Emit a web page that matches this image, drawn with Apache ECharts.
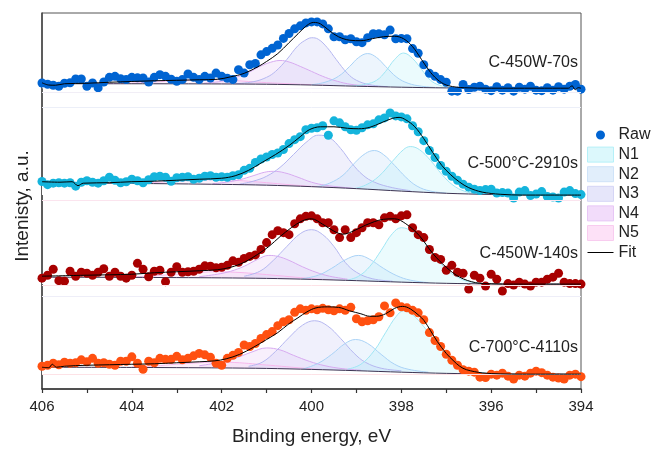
<!DOCTYPE html>
<html>
<head>
<meta charset="utf-8">
<script src="https://cdn.jsdelivr.net/npm/echarts@6/dist/echarts.min.js"></script>
<style>
  html, body { margin: 0; padding: 0; background: #fff; }
  #chart { width: 652px; height: 451px; }
</style>
</head>
<body>
<div id="chart"></div>
<script>
// N 1s spectra of four samples, stacked. Raw scans share one energy grid (eV)
const energyStart = 406;
const energyStep = 0.125;
const energies = [];
for (let i = 0; i <= 96; i++) energies.push(+(energyStart - i * energyStep).toFixed(3));

const samples = ['C-450W-70s', 'C-500°C-2910s', 'C-450W-140s', 'C-700°C-4110s'];
const offsets = [304, 196, 106, 15]; // vertical shift of each spectrum
const xTickLabels = [406, 404, 402, 400, 398, 396, 394];

// raw counts (a.u.), 406 -> 394 eV
const raw1 = [5.3, 4, 3, 2, 5, 5.5, 9.3, 9.3, 2, 5.3, 0.3, 6.3, 11, 12, 9.5, 8.7, 11, 10.5, 10.3, 6.3, 11, 13.7, 12, 9, 7,
  8.7, 14.3, 11, 8.7, 12, 10.3, 15.3, 12, 10, 8.7, 18.7, 15.3, 23.7, 25, 33.7, 37, 40.3, 43.7, 50.3, 55.3, 60, 63, 66, 67,
  67, 65, 60, 52, 52, 49, 50, 47, 46, 51, 55, 55, 54, 58.7, 50, 50.3, 50, 40, 35.3, 23.7, 15, 12, 8.7, 6,
  -3, -3, 3.7, -1.3, 1, 2, -1, -2.5, 1.5, -2, 0.5, -3, 1, -1, 2, -2, -2.5, 0.5, -2, 1.5, -1, 2, 3.7, -1];
const raw2 = [13.7, 10.5, 12, 12.5, 12, 12.5, 9, 13, 14.5, 13, 12, 14.5, 18, 15, 12.5, 13.5, 16, 14.5, 12.5, 15.5, 18.5, 19, 18, 14, 17.5,
  18, 18.5, 16, 17, 19, 19.5, 18, 18.5, 18, 19.5, 20.5, 25, 27, 33, 36.5, 38.5, 41, 42.5, 46, 52, 56, 59, 66, 67.5,
  68, 70, 60.5, 75, 73, 69, 66, 65.5, 68, 71, 72, 76, 78, 83, 80, 79, 77, 70, 64, 55, 45, 38, 30, 24,
  19, 15, 11, 8, 6, 4.5, 5.5, 6, 2, 2.5, 2, -3, 3, 4.5, -0.5, 1, 3.5, -1.5, -2, -3, 3, 4.5, 1.5, 0.5];
const raw3 = [6, 9, 15, 3.5, 3, 13, 8, 12, 11, 9, 12, 15.5, 8, 12, 8, 6, 9, 21, 15, 7.5, 13, 14, 2.5, 12, 17.5,
  12, 12.5, 13, 15, 18.5, 18, 16.5, 17, 19, 23.5, 22, 26, 28, 29.5, 35, 42, 50, 54, 52, 50, 61, 66, 68.5, 69,
  66, 62, 62, 55, 47, 55, 47, 52, 57, 62, 62, 60, 67, 68.5, 66, 69, 70, 57, 50, 47, 35, 27, 25, 14,
  19, 12, 11, -5, 9, 6, -2, 10, 5, -7, 0.5, -1, 2, 0, -2, 2, 2, 5, 7, 11, 2, 0.5, 0.5, 0];
const raw4 = [8, 9, 11, 9.5, 12, 11, 11.5, 14.5, 12.5, 16, 11, 11.5, 10, 9, 13, 13, 17.5, 11, 5, 13, 11.5, 16, 15, 15, 18,
  14.5, 16, 18.5, 21, 19.5, 17, 11, 9, 16, 19, 22, 29.5, 28, 31, 36, 40, 43, 49, 53, 55, 62.5, 66, 64.5, 66,
  65, 66.5, 65, 64, 66, 64.5, 67.5, 56, 53, 54, 55, 58, 69, 62, 72, 68, 67, 64.5, 62, 55, 42, 34, 28, 20,
  14, 9, 4.5, 3, 2, -3, -3.5, 0, -1, 1, -2, -5, -1, -2, 1, 3, 1.5, -1, -3, -4, -5, -1, 0, -2.5];

// envelope fits [eV, a.u.]
const fit1 = [[406, 5.5], [405.85, 3.2], [405.7, 3], [405.5, 4.5], [405, 5], [404.5, 6], [404, 6.8], [403.5, 7.5], [403, 8],
  [402.5, 8.5], [402.1, 9], [401.8, 11.5], [401.5, 15], [401.2, 21.5], [401, 27], [400.75, 35], [400.5, 46], [400.3, 55],
  [400.1, 63.5], [399.95, 66.5], [399.8, 65], [399.6, 58], [399.4, 52], [399.15, 48.5], [398.9, 48], [398.65, 50], [398.4, 52],
  [398.15, 52.5], [397.95, 50], [397.75, 42], [397.55, 29], [397.35, 16], [397.15, 7], [396.95, 2.5], [396.6, 0.5], [396, 0],
  [395, 0], [394.28, 0], [394.2, 2.5], [394.13, -1.5], [394.06, 0.5], [394, 0]];
const fit2 = [[406, 13.5], [405.6, 13], [405.33, 13.5], [405.2, 9.5], [405.08, 12], [404.5, 12.5], [404, 13.5], [403.5, 14],
  [403, 15], [402.5, 16], [402, 17], [401.7, 19.5], [401.4, 25], [401.1, 33], [400.8, 41], [400.5, 50], [400.25, 59],
  [400.05, 66], [399.8, 69], [399.5, 69], [399.2, 67.5], [398.95, 67], [398.7, 68.5], [398.45, 73], [398.2, 77.5],
  [398.05, 78.5], [397.9, 76], [397.7, 69], [397.5, 57], [397.3, 43], [397.1, 30], [396.9, 20.5], [396.7, 13], [396.5, 7.5],
  [396.2, 3], [395.8, 0.8], [395.3, 0], [394, 0]];
const fit3 = [[406, 8], [405, 9], [404, 10], [403.5, 11.5], [403, 12.5], [402.5, 13.5], [402.1, 14.5], [401.8, 17], [401.5, 22],
  [401.2, 30], [400.95, 38], [400.7, 48], [400.45, 57], [400.2, 64], [400, 66], [399.75, 60.5], [399.5, 53.5], [399.3, 50.5],
  [399.1, 53], [398.8, 59.5], [398.4, 65.5], [398.15, 66], [397.9, 61], [397.6, 49], [397.3, 31], [397, 17], [396.7, 7],
  [396.35, 1.5], [396, 0.3], [395.5, 0], [394, 0]];
const fit4 = [[406, 7], [405.85, 6.5], [405.77, 10], [405.68, 7], [405.5, 8], [405, 9], [404.5, 9.5], [404, 10], [403.5, 10.5],
  [403, 11.5], [402.5, 12.5], [402.15, 13.5], [401.9, 15.5], [401.6, 20], [401.3, 27], [401, 35], [400.75, 42], [400.5, 51],
  [400.3, 57], [400.1, 63], [399.9, 67], [399.65, 68], [399.4, 67.5], [399.15, 64], [398.9, 61], [398.7, 58.5], [398.55, 58.5],
  [398.35, 61], [398.15, 66.5], [397.97, 68.5], [397.8, 66], [397.6, 59], [397.5, 54.5], [397.35, 44], [397.2, 33], [397, 21],
  [396.85, 14], [396.7, 8], [396.55, 4.5], [396.2, 1.3], [395.8, 0.3], [395.3, 0], [394, 0]];

// Shirley backgrounds
const bg1 = [[406, 4.5], [404, 4.5], [402, 4.3], [401, 4], [400, 3.2], [399, 2], [398, 1], [397, 0.3], [396, 0], [394, 0]];
const bg2 = [[406, 12.5], [404, 11.8], [402, 10.8], [401, 10], [400, 8.5], [399, 6.5], [398, 4], [397, 1.8], [396, 0.6], [395, 0.2], [394, 0]];
const bg3 = [[406, 7], [404, 6.8], [402, 6.3], [401, 5.8], [400, 4.8], [399, 3.5], [398, 2], [397, 0.8], [396, 0.2], [394, 0]];
const bg4 = [[406, 7], [404, 6.8], [402, 6.3], [401, 5.8], [400, 4.8], [399, 3.5], [398, 2], [397, 0.8], [396, 0.2], [394, 0]];

// components (background included)
const n1_1 = [[399.1, 2], [398.8, 4], [398.55, 8], [398.35, 17], [398.15, 29], [397.95, 35.5], [397.75, 30], [397.55, 19], [397.35, 8], [397.15, 3], [396.9, 0.8], [396.6, 0.2]];
const n2_1 = [[400, 3.5], [399.7, 6], [399.4, 12], [399.15, 22], [398.95, 31], [398.75, 35], [398.55, 31], [398.35, 22], [398.1, 11], [397.85, 5], [397.55, 2], [397.2, 0.6]];
const n3_1 = [[401.7, 4.5], [401.3, 6.5], [401, 11], [400.8, 17], [400.55, 29], [400.3, 43], [400.1, 49.5], [400, 51], [399.85, 49.5], [399.65, 41], [399.45, 29], [399.2, 15], [399, 8], [398.7, 3.5], [398.3, 1.5]];
const n4_1 = [[402.4, 5], [402, 7], [401.75, 10], [401.4, 16], [401.1, 23], [400.85, 27], [400.7, 28], [400.5, 26.5], [400.25, 22], [400, 17], [399.75, 12], [399.5, 8], [399.2, 4.5], [398.9, 2.8], [398.5, 1.8]];
const n5_1 = [[404.6, 4.6], [404, 5.2], [403.5, 6.3], [403, 7.6], [402.6, 8.4], [402.2, 8.6], [401.8, 8], [401.4, 6.8], [401, 5.6], [400.5, 4.5], [400, 3.5], [399.5, 2.6]];

const n1_2 = [[399.1, 6], [398.8, 10], [398.5, 19], [398.2, 34], [397.95, 46], [397.8, 49], [397.6, 46], [397.35, 35], [397.1, 21], [396.85, 10], [396.6, 4], [396.3, 1.3], [396, 0.5]];
const n2_2 = [[399.9, 8], [399.6, 12], [399.3, 20], [399.05, 32], [398.8, 42], [398.6, 45], [398.4, 41], [398.15, 30], [397.9, 18], [397.65, 9], [397.35, 4], [397, 2]];
const n3_2 = [[401.6, 11], [401.3, 14], [401, 19], [400.7, 28], [400.4, 41], [400.1, 54], [399.85, 60.5], [399.6, 58], [399.35, 47], [399.1, 32], [398.85, 20], [398.6, 13], [398.2, 7.5], [397.8, 4.5]];
const n4_2 = [[402.2, 11.5], [401.9, 13], [401.6, 15.5], [401.3, 19.5], [401.05, 23], [400.85, 24], [400.6, 22.5], [400.3, 18], [400, 13], [399.7, 10], [399.3, 7.8], [398.9, 6]];
const n5_2 = [[404, 12], [403.5, 12.8], [403, 14], [402.6, 15], [402.2, 15.5], [401.8, 15.2], [401.4, 14], [401, 12.5], [400.5, 10.5], [400, 8.8], [399.5, 7.6]];

const n1_3 = [[399.2, 4], [398.95, 8], [398.7, 18], [398.45, 34], [398.2, 51], [398, 57], [397.75, 53], [397.5, 43], [397.25, 28], [397, 15], [396.75, 7], [396.5, 2.5], [396.1, 0.6]];
const n2_3 = [[400.2, 5.5], [399.85, 9], [399.55, 16], [399.25, 24.5], [398.95, 29], [398.7, 25], [398.4, 16], [398.1, 8.5], [397.8, 4], [397.4, 1.5]];
const n3_3 = [[401.5, 8], [401.15, 13], [400.85, 24], [400.55, 38], [400.25, 51], [400, 55], [399.75, 50], [399.5, 38], [399.25, 22], [399, 12], [398.65, 5.5], [398.2, 3]];
const n4_3 = [[402.5, 7.5], [402.1, 10], [401.8, 13], [401.5, 18], [401.2, 25], [400.95, 29], [400.75, 28], [400.5, 24], [400.2, 17.5], [399.9, 12], [399.6, 8], [399.2, 5]];
const n5_3 = [[404, 7.2], [403.5, 8.5], [403, 10], [402.5, 11.8], [402.1, 12.5], [401.7, 12], [401.3, 10.8], [400.9, 9.2], [400.5, 7.6], [400, 5.6], [399.5, 4.3]];

const n1_4 = [[399.2, 5], [398.9, 10], [398.6, 24], [398.35, 42], [398.12, 58], [397.95, 64], [397.75, 60], [397.5, 48], [397.2, 30], [396.9, 14], [396.6, 6], [396.3, 2], [395.9, 0.5]];
const n2_4 = [[400.2, 5], [399.85, 11], [399.55, 20], [399.25, 31], [399.02, 35], [398.75, 31], [398.45, 20], [398.15, 10], [397.85, 5], [397.4, 2]];
const n3_4 = [[401.4, 8], [401.1, 12], [400.8, 23], [400.5, 37], [400.2, 49.5], [399.93, 54], [399.65, 49], [399.35, 36], [399.05, 21], [398.8, 12], [398.45, 6], [398, 3.5]];
const n4_4 = [[402.5, 8.5], [402.1, 11.5], [401.7, 16], [401.35, 22], [401, 26.5], [400.7, 24.5], [400.4, 19], [400.05, 13], [399.7, 8.5], [399.3, 5.5], [398.9, 4]];
const n5_4 = [[404, 7.2], [403.5, 8.3], [403, 10], [402.5, 11.5], [402.05, 12.2], [401.6, 11.5], [401.2, 10], [400.8, 8.5], [400.3, 6.5], [399.8, 4.8]];

// faint frame lines left over between the stacked layers
const guideLevels = [300, 285, 191, 105, 94, 15];
const guideColors = ['#f1eef6', '#eceff8', '#fbe4ee', '#fde2e6', '#eeeef8', '#fde2e6'];

const font = '"Liberation Sans", Arial, Helvetica, sans-serif';
const compColors = {
  N1: { line: '#9fe6f4', fill: 'rgba(165,235,248,0.22)', box: '#dcf8fc', border: '#b5f0f8' },
  N2: { line: '#a9d2f6', fill: 'rgba(175,210,245,0.22)', box: '#e1eefb', border: '#cfe3f8' },
  N3: { line: '#b5b7f0', fill: 'rgba(185,185,240,0.22)', box: '#e6e6fa', border: '#d5d5f5' },
  N4: { line: '#d7aaf0', fill: 'rgba(220,175,240,0.2)', box: '#f2dcfa', border: '#e7c6f5' },
  N5: { line: '#f6b8ec', fill: 'rgba(248,190,238,0.22)', box: '#fde1f7', border: '#f8ccef' }
};
const rawColors = ['#0064d2', '#14b4dc', '#a80000', '#ff5010'];

const panels = [
  { raw: raw1, fit: fit1, bg: bg1, comps: { N1: n1_1, N2: n2_1, N3: n3_1, N4: n4_1, N5: n5_1 } },
  { raw: raw2, fit: fit2, bg: bg2, comps: { N1: n1_2, N2: n2_2, N3: n3_2, N4: n4_2, N5: n5_2 } },
  { raw: raw3, fit: fit3, bg: bg3, comps: { N1: n1_3, N2: n2_3, N3: n3_3, N4: n4_3, N5: n5_3 } },
  { raw: raw4, fit: fit4, bg: bg4, comps: { N1: n1_4, N2: n2_4, N3: n3_4, N4: n4_4, N5: n5_4 } }
];
const labelTop = [55, 156, 246, 340];

const series = [];
panels.forEach((p, k) => {
  const o = offsets[k];
  const lift = d => d.map(([e, v]) => [e, v + o]);
  ['N5', 'N4', 'N3', 'N2', 'N1'].forEach(n => {
    series.push({
      name: n, type: 'line', smooth: 0.4, showSymbol: false, silent: true, z: 1,
      data: lift(p.comps[n]),
      lineStyle: { color: compColors[n].line, width: 1 },
      itemStyle: { color: compColors[n].line },
      areaStyle: { color: compColors[n].fill, origin: o, opacity: 1 }
    });
  });
  // white under the background so the fills stop on it
  series.push({
    type: 'line', smooth: 0.3, showSymbol: false, silent: true, z: 2,
    data: lift(p.bg),
    lineStyle: { opacity: 0 },
    areaStyle: { color: '#fff', opacity: 1, origin: o }
  });
  series.push({
    name: 'Background', type: 'line', smooth: 0.3, showSymbol: false, silent: true, z: 3,
    data: lift(p.bg),
    lineStyle: { color: '#3d3452', width: 1 }
  });
  series.push({
    name: 'Raw', type: 'scatter', symbolSize: 9, z: 4,
    data: p.raw.map((v, i) => [energies[i], v + o]),
    itemStyle: { color: rawColors[k], opacity: 1 }
  });
  series.push({
    name: 'Fit', type: 'line', smooth: 0.35, showSymbol: false, z: 5,
    data: lift(p.fit),
    lineStyle: { color: '#000', width: 1 },
    itemStyle: { color: '#000' }
  });
});
series.push({
  type: 'line', data: [], silent: true, z: 0,
  markLine: {
    symbol: 'none', silent: true, label: { show: false },
    data: guideLevels.map((v, i) => ({ yAxis: v, lineStyle: { color: guideColors[i], width: 1, type: 'solid' } }))
  }
});

const corners = 'M0,0L0.01,0L0.01,0.01Z M26,15L25.99,15L25.99,14.99Z ';
const rawIcon = 'path://' + corners + 'M17.5,7.5A4.5,4.5,0,1,1,8.5,7.5A4.5,4.5,0,1,1,17.5,7.5Z';
const fitIcon = 'path://' + corners + 'M0,7L26,7L26,8L0,8Z';

const chart = echarts.init(document.getElementById('chart'));
chart.setOption({
  animation: false,
  grid: { left: 42, right: 71, top: 13, bottom: 58, show: true, borderColor: '#555', borderWidth: 1 },
  xAxis: {
    type: 'value', min: 394, max: 406, interval: 1, inverse: true,
    axisLine: { onZero: false, lineStyle: { color: '#333', width: 1.5 } },
    axisTick: { length: 4, lineStyle: { color: '#333', width: 1.2 } },
    axisLabel: {
      margin: 10, fontSize: 15, color: '#222', fontFamily: font, showMinLabel: true, showMaxLabel: true,
      formatter: v => (xTickLabels.includes(v) ? String(v) : '')
    },
    splitLine: { show: false },
    name: 'Binding energy, eV', nameLocation: 'middle', nameGap: 38,
    nameTextStyle: { fontSize: 19, color: '#222', fontFamily: font }
  },
  yAxis: {
    type: 'value', min: 0, max: 380,
    axisLine: { show: true, lineStyle: { color: '#444', width: 1.5 } },
    axisTick: { show: false }, axisLabel: { show: false }, splitLine: { show: false },
    name: 'Intenisty, a.u.', nameLocation: 'middle', nameGap: 10,
    nameTextStyle: { fontSize: 19, color: '#222', fontFamily: font, padding: [0, 10, 0, 0] }
  },
  legend: {
    orient: 'vertical', left: 587, top: 127, padding: 0, itemWidth: 26, itemHeight: 15, itemGap: 3.6,
    textStyle: { fontFamily: font, fontSize: 16, color: '#222' },
    data: [
      { name: 'Raw', icon: rawIcon, itemStyle: { color: rawColors[0], borderWidth: 0 } },
      ...['N1', 'N2', 'N3', 'N4', 'N5'].map(n => ({
        name: n, icon: 'rect',
        itemStyle: { color: compColors[n].box, borderColor: compColors[n].border, borderWidth: 1 }
      })),
      { name: 'Fit', icon: fitIcon, itemStyle: { color: '#000', borderWidth: 0 } }
    ]
  },
  graphic: samples.map((s, k) => ({
    type: 'text', right: 74, top: labelTop[k], silent: true,
    style: { text: s, font: '16px ' + font, fill: '#222' }
  })),
  series: series
});
</script>
</body>
</html>
